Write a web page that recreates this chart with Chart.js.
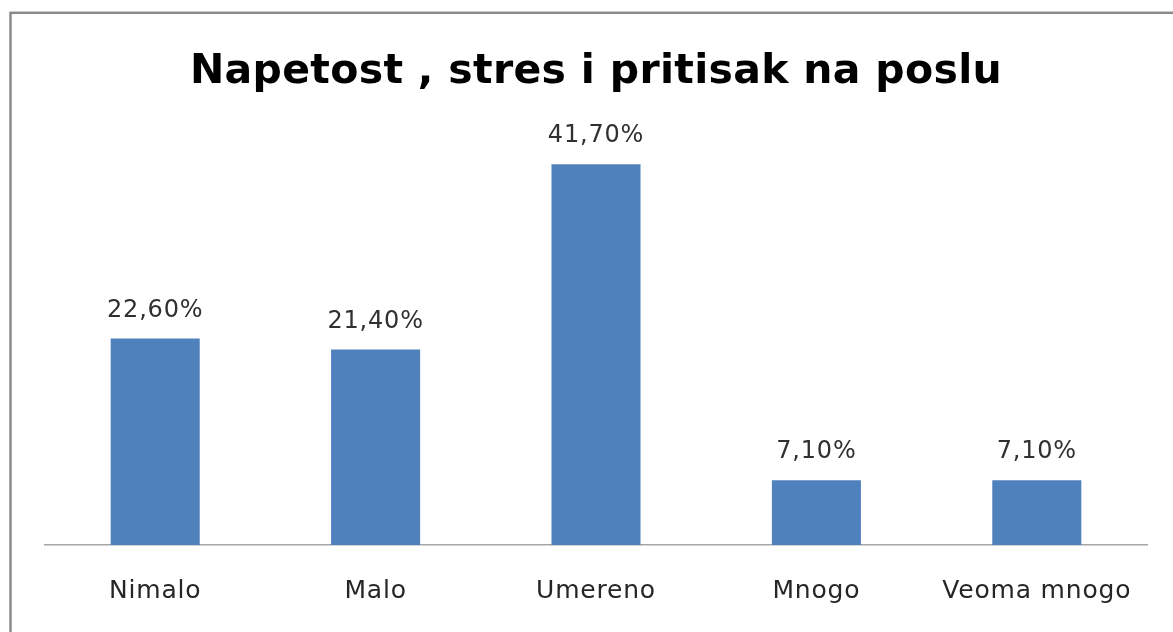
<!DOCTYPE html>
<html>
<head>
<meta charset="utf-8">
<script src="https://cdn.jsdelivr.net/npm/chart.js@4"></script>
<style>
  html, body { margin: 0; padding: 0; background: #fff; overflow: hidden; }
  #wrap { position: absolute; left: 0; top: 0; width: 1192px; height: 632px; }
</style>
</head>
<body>
<div id="wrap"><canvas id="chart"></canvas></div>
<script>
// podaci sa slike
const kategorije = ['Nimalo', 'Malo', 'Umereno', 'Mnogo', 'Veoma mnogo'];
const procenti = [22.6, 21.4, 41.7, 7.1, 7.1];
const naslov = 'Napetost , stres i pritisak na poslu';

// okvir oko cijelog grafikona + razmak slova
const okvirPlugin = {
    id: 'okvir',
    beforeDraw(chart) {
        const ctx = chart.ctx;
        ctx.save();
        ctx.strokeStyle = '#8a8a8a';
        ctx.lineWidth = 2.5;
        ctx.strokeRect(10.5, 12.8, 1172, 700);
        ctx.restore();
        ctx.letterSpacing = '0.8px';
    },
    afterDraw(chart) {
        chart.ctx.letterSpacing = '0px';
    }
};

// naslov i vrijednosti iznad stubaca
const oznakePlugin = {
    id: 'oznake',
    afterDatasetsDraw(chart) {
        const ctx = chart.ctx;
        const meta = chart.getDatasetMeta(0);
        ctx.save();
        ctx.font = '24px "DejaVu Sans"';
        ctx.fillStyle = '#303030';
        ctx.textAlign = 'center';
        ctx.textBaseline = 'alphabetic';
        meta.data.forEach((bar, i) => {
            const txt = procenti[i].toFixed(2).replace('.', ',') + '%';
            ctx.fillText(txt, bar.x, bar.y - 22);
        });
        ctx.letterSpacing = '0.3px';
        ctx.font = 'bold 41px "DejaVu Sans"';
        ctx.fillStyle = '#000';
        ctx.fillText(naslov, chart.width / 2, 83);
        ctx.restore();
    }
};

const ctx = document.getElementById('chart').getContext('2d');
new Chart(ctx, {
    type: 'bar',
    data: {
        labels: kategorije,
        datasets: [{
            data: procenti,
            backgroundColor: '#4f81bd',
            borderWidth: 0,
            categoryPercentage: 1,
            barPercentage: 0.404
        }]
    },
    options: {
        responsive: true,
        maintainAspectRatio: false,
        animation: false,
        layout: { padding: { left: 45, right: 45, top: 134, bottom: 0 } },
        plugins: {
            legend: { display: false },
            tooltip: { enabled: false },
            title: { display: false }
        },
        scales: {
            x: {
                grid: { display: false, drawTicks: false },
                border: { display: true, color: '#a6a6a6', width: 1.5 },
                ticks: {
                    color: '#262626',
                    padding: 31,
                    font: { family: 'DejaVu Sans', size: 25, lineHeight: 1.2 }
                },
                afterFit(scale) {
                    scale.height = 87;
                }
            },
            y: { display: false, min: 0, max: 45 }
        }
    },
    plugins: [okvirPlugin, oznakePlugin]
});
</script>
</body>
</html>
